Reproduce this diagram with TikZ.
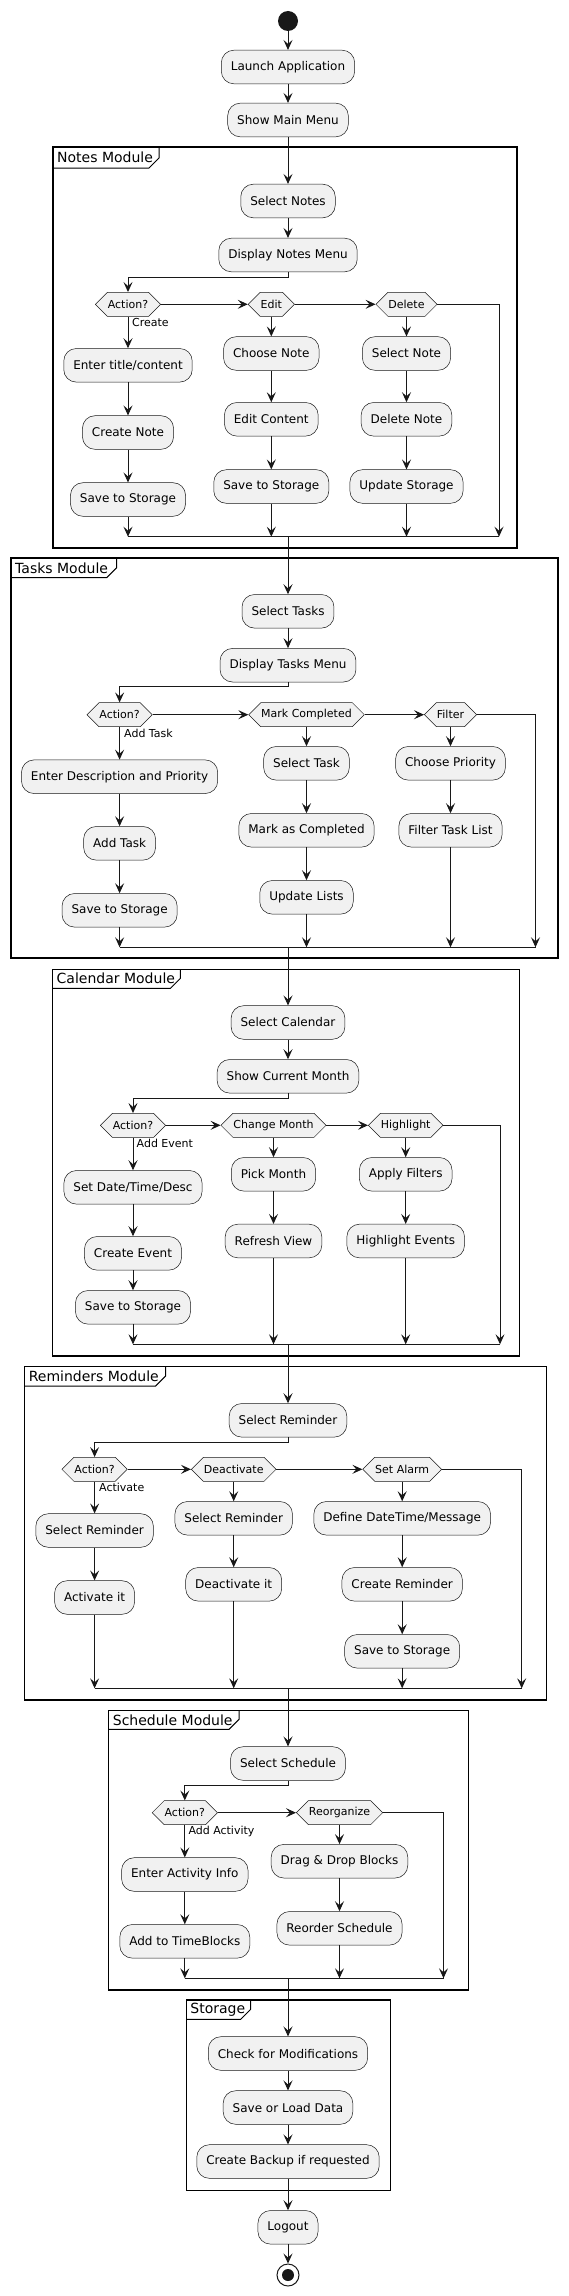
\documentclass[tikz,border=0pt]{standalone}
\usepackage{fontspec}
\setmainfont{DejaVu Sans}
\usetikzlibrary{arrows.meta,shapes.symbols,calc}
\definecolor{ln}{HTML}{181818}
\definecolor{bg}{HTML}{F1F1F1}
\begin{document}
\begin{tikzpicture}[x=1pt,y=-1pt,
 act/.style={draw=ln, fill=bg, line width=0.5pt, rounded corners=12.5pt, minimum height=33.6pt, inner xsep=9.5pt, inner ysep=0pt, font=\fontsize{12}{14}\selectfont},
 hexa/.style={shape=signal, signal to=west and east, signal pointer angle=90, draw=ln, fill=bg, line width=0.5pt, minimum height=24pt, inner xsep=0.5pt, inner ysep=0pt, font=\fontsize{11}{13}\selectfont},
 arr/.style={draw=ln, line width=1pt, -{Stealth[length=10pt,width=9pt,inset=4pt]}},
 wire/.style={draw=ln, line width=1pt},
 elab/.style={anchor=west, inner sep=0pt, font=\fontsize{11}{13}\selectfont},
 frm/.style={draw=black, line width=1.25pt},
 tabline/.style={draw=black, line width=1pt},
 flab/.style={anchor=west, inner sep=0pt, font=\fontsize{14}{16}\selectfont},
]
\useasboundingbox (0,0) rectangle (568,2296);

% ---------- top ----------
\node[circle, fill=ln, minimum size=20pt, inner sep=0pt] (start) at (288,21) {};
\node[act] (launch) at (288,67) {Launch Application};
\node[act] (menu) at (288,120) {Show Main Menu};
\draw[arr] (start) -- (launch);
\draw[arr] (launch) -- (menu);

% ---------- Notes ----------
\draw[frm] (53,147) rectangle (517,548);
\draw[tabline] (53,168) -- (149,168) -- (159,158) -- (159,147);
\node[flab] (fNotes) at (57,157.5) {Notes Module};
\node[act] (selN) at (288,201) {Select Notes};
\node[act] (dispN) at (288,255) {Display Notes Menu};
\coordinate (nB) at (288,277);
\node[hexa] (nd1) at (128,304.3) {Action?};
\node[hexa] (nd2) at (271.3,304.3) {Edit};
\node[hexa] (nd3) at (406.5,304.3) {Delete};
\coordinate (nR) at (499,304.3);
\coordinate (nRM) at (499,536.7);
\coordinate (nM) at (288,536.7);
\node[act] (na1) at (128,365.3) {Enter title/content};
\node[act] (na2) at (128,432.5) {Create Note};
\node[act] (na3) at (128,499.5) {Save to Storage};
\node[act] (nb1) at (271.3,353.5) {Choose Note};
\node[act] (nb2) at (271.3,419.3) {Edit Content};
\node[act] (nb3) at (271.3,486.5) {Save to Storage};
\node[act] (nc1) at (406.5,353.5) {Select Note};
\node[act] (nc2) at (406.5,419.3) {Delete Note};
\node[act] (nc3) at (406.5,486.5) {Update Storage};
\node[elab] (lCreate) at ($(nd1.south)+(4,6)$) {Create};
\draw[arr] (menu) -- (selN);
\draw[arr] (selN) -- (dispN);
\draw[arr] (dispN.south) -- (nB) -| (nd1.north);
\draw[arr] (nd1.east) -- (nd2.west);
\draw[arr] (nd2.east) -- (nd3.west);
\draw[arr] (nd3.east) -- (nR) -- (nRM);
\draw[arr] (nd1.south) -- (na1.north);
\draw[arr] (na1) -- (na2);
\draw[arr] (na2) -- (na3);
\draw[arr] (nd2.south) -- (nb1.north);
\draw[arr] (nb1) -- (nb2);
\draw[arr] (nb2) -- (nb3);
\draw[arr] (nd3.south) -- (nc1.north);
\draw[arr] (nc1) -- (nc2);
\draw[arr] (nc2) -- (nc3);
\draw[arr] (na3.south) -- (na3.south |- nM);
\draw[arr] (nb3.south) -- (nb3.south |- nM);
\draw[arr] (nc3.south) -- (nc3.south |- nM);
\draw[wire] (na3.south |- nM) -- (nRM);

% ---------- Tasks ----------
\draw[frm] (11,558) rectangle (558,958);
\draw[tabline] (11,577.7) -- (106.7,577.7) -- (116.7,567.7) -- (116.7,558);
\node[flab] (fTasks) at (15,568) {Tasks Module};
\node[act] (selT) at (288,611.3) {Select Tasks};
\node[act] (dispT) at (288,665.2) {Display Tasks Menu};
\coordinate (tB) at (288,686.7);
\node[hexa] (td1) at (119.6,714.7) {Action?};
\node[hexa] (td2) at (306.5,714.7) {Mark Completed};
\node[hexa] (td3) at (450.5,714.7) {Filter};
\coordinate (tR) at (535.5,714.7);
\coordinate (tRM) at (535.5,947.3);
\coordinate (tM) at (288,947.3);
\node[act] (ta1) at (119.6,776.7) {Enter Description and Priority};
\node[act] (ta2) at (119.6,843.3) {Add Task};
\node[act] (ta3) at (119.6,910.3) {Save to Storage};
\node[act] (tb1) at (306.5,763.3) {Select Task};
\node[act] (tb2) at (306.5,830.3) {Mark as Completed};
\node[act] (tb3) at (306.5,897.3) {Update Lists};
\node[act] (tc1) at (450.5,763.3) {Choose Priority};
\node[act] (tc2) at (450.5,830.3) {Filter Task List};
\node[elab] (lAddTask) at ($(td1.south)+(4.4,6)$) {Add Task};
\draw[arr] (nM) -- (selT.north);
\draw[arr] (selT) -- (dispT);
\draw[arr] (dispT.south) -- (tB) -| (td1.north);
\draw[arr] (td1.east) -- (td2.west);
\draw[arr] (td2.east) -- (td3.west);
\draw[arr] (td3.east) -- (tR) -- (tRM);
\draw[arr] (td1.south) -- (ta1.north);
\draw[arr] (ta1) -- (ta2);
\draw[arr] (ta2) -- (ta3);
\draw[arr] (td2.south) -- (tb1.north);
\draw[arr] (tb1) -- (tb2);
\draw[arr] (tb2) -- (tb3);
\draw[arr] (td3.south) -- (tc1.north);
\draw[arr] (tc1) -- (tc2);
\draw[arr] (ta3.south) -- (ta3.south |- tM);
\draw[arr] (tb3.south) -- (tb3.south |- tM);
\draw[arr] (tc2.south) -- (tc2.south |- tM);
\draw[wire] (ta3.south |- tM) -- (tRM);

% ---------- Calendar ----------
\draw[frm] (52.5,969.3) rectangle (519.6,1356);
\draw[tabline] (52.5,988.3) -- (170.4,988.3) -- (180.4,978.3) -- (180.4,969.3);
\node[flab] (fCal) at (56.5,978.5) {Calendar Module};
\node[act] (selC) at (288,1022.5) {Select Calendar};
\node[act] (showM) at (288,1076.3) {Show Current Month};
\coordinate (cB) at (288,1098.3);
\node[hexa] (cd1) at (133,1125.3) {Action?};
\node[hexa] (cd2) at (273.5,1125.3) {Change Month};
\node[hexa] (cd3) at (405.7,1125.3) {Highlight};
\coordinate (cR) at (500,1125.3);
\coordinate (cRM) at (500,1344.3);
\coordinate (cM) at (288,1344.3);
\node[act] (ca1) at (133,1187.3) {Set Date/Time/Desc};
\node[act] (ca2) at (133,1253.3) {Create Event};
\node[act] (ca3) at (133,1307.3) {Save to Storage};
\node[act] (cb1) at (273.5,1174.3) {Pick Month};
\node[act] (cb2) at (273.5,1241) {Refresh View};
\node[act] (cc1) at (405.7,1174.3) {Apply Filters};
\node[act] (cc2) at (405.7,1241) {Highlight Events};
\node[elab] (lAddEvent) at ($(cd1.south)+(3.5,6)$) {Add Event};
\draw[arr] (tM) -- (selC.north);
\draw[arr] (selC) -- (showM);
\draw[arr] (showM.south) -- (cB) -| (cd1.north);
\draw[arr] (cd1.east) -- (cd2.west);
\draw[arr] (cd2.east) -- (cd3.west);
\draw[arr] (cd3.east) -- (cR) -- (cRM);
\draw[arr] (cd1.south) -- (ca1.north);
\draw[arr] (ca1) -- (ca2);
\draw[arr] (ca2) -- (ca3);
\draw[arr] (cd2.south) -- (cb1.north);
\draw[arr] (cb1) -- (cb2);
\draw[arr] (cd3.south) -- (cc1.north);
\draw[arr] (cc1) -- (cc2);
\draw[arr] (ca3.south) -- (ca3.south |- cM);
\draw[arr] (cb2.south) -- (cb2.south |- cM);
\draw[arr] (cc2.south) -- (cc2.south |- cM);
\draw[wire] (ca3.south |- cM) -- (cRM);

% ---------- Reminders ----------
\draw[frm] (24.6,1366.7) rectangle (546.4,1700);
\draw[tabline] (24.6,1386) -- (155.6,1386) -- (165.6,1376) -- (165.6,1366.7);
\node[flab] (fRem) at (28.6,1376.5) {Reminders Module};
\node[act] (selR) at (288,1420.3) {Select Reminder};
\coordinate (rB) at (288,1442.3);
\node[hexa] (rd1) at (94.6,1469.3) {Action?};
\node[hexa] (rd2) at (233.7,1469.3) {Deactivate};
\node[hexa] (rd3) at (402.2,1469.3) {Set Alarm};
\coordinate (rR) at (521.7,1469.3);
\coordinate (rRM) at (521.7,1688.3);
\coordinate (rM) at (288,1688.3);
\node[act] (ra1) at (94.6,1530.5) {Select Reminder};
\node[act] (ra2) at (94.6,1597.5) {Activate it};
\node[act] (rb1) at (233.7,1518.3) {Select Reminder};
\node[act] (rb2) at (233.7,1584.3) {Deactivate it};
\node[act] (rc1) at (402.2,1518.3) {Define DateTime/Message};
\node[act] (rc2) at (402.2,1584.3) {Create Reminder};
\node[act] (rc3) at (402.2,1651.3) {Save to Storage};
\node[elab] (lAct) at ($(rd1.south)+(4.4,6)$) {Activate};
\draw[arr] (cM) -- (selR.north);
\draw[arr] (selR.south) -- (rB) -| (rd1.north);
\draw[arr] (rd1.east) -- (rd2.west);
\draw[arr] (rd2.east) -- (rd3.west);
\draw[arr] (rd3.east) -- (rR) -- (rRM);
\draw[arr] (rd1.south) -- (ra1.north);
\draw[arr] (ra1) -- (ra2);
\draw[arr] (rd2.south) -- (rb1.north);
\draw[arr] (rb1) -- (rb2);
\draw[arr] (rd3.south) -- (rc1.north);
\draw[arr] (rc1) -- (rc2);
\draw[arr] (rc2) -- (rc3);
\draw[arr] (ra2.south) -- (ra2.south |- rM);
\draw[arr] (rb2.south) -- (rb2.south |- rM);
\draw[arr] (rc3.south) -- (rc3.south |- rM);
\draw[wire] (ra2.south |- rM) -- (rRM);

% ---------- Schedule ----------
\draw[frm] (108.7,1710.3) rectangle (468.5,1990);
\draw[tabline] (108.7,1729.3) -- (229,1729.3) -- (239,1719.3) -- (239,1710.3);
\node[flab] (fSch) at (112.7,1720) {Schedule Module};
\node[act] (selS) at (288,1763.5) {Select Schedule};
\coordinate (sB) at (288,1785);
\node[hexa] (sd1) at (184.8,1812.7) {Action?};
\node[hexa] (sd2) at (339.5,1812.7) {Reorganize};
\coordinate (sR) at (443.5,1812.7);
\coordinate (sRM) at (443.5,1978.3);
\coordinate (sM) at (288,1978.3);
\node[act] (sa1) at (184.8,1874.5) {Enter Activity Info};
\node[act] (sa2) at (184.8,1941.3) {Add to TimeBlocks};
\node[act] (sb1) at (339.5,1861.2) {Drag \& Drop Blocks};
\node[act] (sb2) at (339.5,1928.3) {Reorder Schedule};
\node[elab] (lAddAct) at ($(sd1.south)+(3.5,6)$) {Add Activity};
\draw[arr] (rM) -- (selS.north);
\draw[arr] (selS.south) -- (sB) -| (sd1.north);
\draw[arr] (sd1.east) -- (sd2.west);
\draw[arr] (sd2.east) -- (sR) -- (sRM);
\draw[arr] (sd1.south) -- (sa1.north);
\draw[arr] (sa1) -- (sa2);
\draw[arr] (sd2.south) -- (sb1.north);
\draw[arr] (sb1) -- (sb2);
\draw[arr] (sa2.south) -- (sa2.south |- sM);
\draw[arr] (sb2.south) -- (sb2.south |- sM);
\draw[wire] (sa2.south |- sM) -- (sRM);

% ---------- Storage ----------
\draw[frm] (186.2,2000) rectangle (390.6,2190.7);
\draw[tabline] (186.2,2019.3) -- (240.7,2019.3) -- (250.7,2009.3) -- (250.7,2000);
\node[flab] (fSto) at (190.2,2009.5) {Storage};
\node[act] (chk) at (288,2053.5) {Check for Modifications};
\node[act] (sol) at (288,2107.5) {Save or Load Data};
\node[act] (bak) at (288,2161.5) {Create Backup if requested};
\node[act] (logout) at (288,2227.3) {Logout};
\node[circle, draw=ln, line width=1pt, fill=white, minimum size=22pt, inner sep=0pt] (stop) at (288,2275) {};
\node[circle, fill=ln, minimum size=12pt, inner sep=0pt] (stopin) at (stop) {};
\draw[arr] (sM) -- (chk.north);
\draw[arr] (chk) -- (sol);
\draw[arr] (sol) -- (bak);
\draw[arr] (bak) -- (logout);
\draw[arr] (logout) -- (stop);
\end{tikzpicture}
\end{document}
